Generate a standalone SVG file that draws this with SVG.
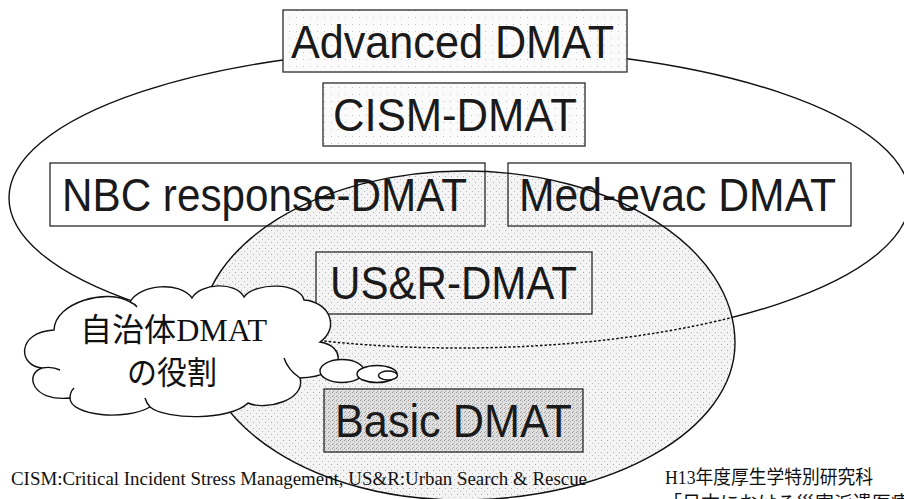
<svg xmlns="http://www.w3.org/2000/svg" width="904" height="499" viewBox="0 0 904 499">
<style>
.box{stroke:#2a2a2a;stroke-width:1.3}
.lbl{font-family:"Liberation Sans",Arial,sans-serif;font-size:46px;fill:#1a1a1a}
.line{fill:none;stroke:#111;stroke-width:1.4}
.dot{fill:none;stroke:#111;stroke-width:1.5;stroke-dasharray:2.5 2}
.cloudtxt{font-family:"Liberation Serif","Noto Sans CJK JP",serif;font-size:32px;fill:#111}
.foot{font-family:"Liberation Serif","Noto Sans CJK JP",serif;font-size:19px;fill:#111}
.bub{fill:#fff;stroke:#111;stroke-width:1.4}
</style>
<defs>
<pattern id="stip" width="6" height="6" patternUnits="userSpaceOnUse">
<rect width="6" height="6" fill="#f4f4f4"/>
<rect x="1" y="2" width="1" height="1" fill="#a8a8a8"/>
<rect x="4" y="5" width="1" height="1" fill="#bdbdbd"/>
</pattern>
<pattern id="stipL" width="7" height="7" patternUnits="userSpaceOnUse">
<rect width="7" height="7" fill="#fbfbfb"/>
<rect x="2" y="3" width="1" height="1" fill="#c4c4c4"/>
</pattern>
<pattern id="stipD" width="4" height="4" patternUnits="userSpaceOnUse">
<rect width="4" height="4" fill="#e0e0e0"/>
<rect x="0" y="0" width="1" height="1" fill="#9a9a9a"/>
<rect x="2" y="1" width="1" height="1" fill="#a8a8a8"/>
<rect x="1" y="3" width="1" height="1" fill="#a0a0a0"/>
</pattern>
<path id="innerShape" d="M465,171 C614,171 735,248 735,343 C735,430 612,500 460,500 C316,500 200,426 200,335 C200,244 319,171 465,171 Z"/>
<clipPath id="innerClip"><use href="#innerShape"/></clipPath>
</defs>
<rect width="904" height="499" fill="#fff"/>

<g id="sets">
<ellipse id="outer-set" class="line" cx="459.5" cy="198" rx="450.5" ry="150"/>
<use id="inner-set-fill" href="#innerShape" fill="url(#stip)" stroke="none"/>
</g>

<g id="node-advanced">
<rect class="box" x="283" y="10" width="344" height="62" fill="url(#stipL)"/>
<text class="lbl" x="291" y="58" textLength="323" lengthAdjust="spacingAndGlyphs">Advanced DMAT</text>
</g>
<g id="node-cism">
<rect class="box" x="323" y="83" width="262" height="63" fill="url(#stipL)"/>
<text class="lbl" x="333" y="131" textLength="244" lengthAdjust="spacingAndGlyphs">CISM-DMAT</text>
</g>
<g id="node-nbc">
<rect class="box" x="50" y="163" width="435" height="63" fill="none"/>
<text class="lbl" x="62" y="211" textLength="405" lengthAdjust="spacingAndGlyphs">NBC response-DMAT</text>
</g>
<g id="node-medevac">
<rect class="box" x="508" y="163" width="343" height="63" fill="none"/>
<text class="lbl" x="519" y="211" textLength="317" lengthAdjust="spacingAndGlyphs">Med-evac DMAT</text>
</g>

<g id="connectors">
<use href="#innerShape" class="line"/>
<ellipse class="dot" cx="459.5" cy="198" rx="450.5" ry="150" clip-path="url(#innerClip)"/>
</g>

<g id="node-usr">
<rect class="box" x="316" y="252" width="276" height="62" fill="none"/>
<text class="lbl" x="330" y="299" textLength="247" lengthAdjust="spacingAndGlyphs">US&amp;R-DMAT</text>
</g>
<g id="node-basic">
<rect class="box" x="324" y="389" width="259" height="63" fill="url(#stipD)"/>
<text class="lbl" x="335" y="437" textLength="237" lengthAdjust="spacingAndGlyphs">Basic DMAT</text>
</g>

<g id="node-cloud">
<path d="M42,368 C18,366 16,332 54,330 C55,302 108,288 130,302 C140,284 180,281 192,298 C200,283 236,281 244,297 C255,282 300,282 304,300 C330,302 340,328 320,342 C346,346 348,376 300,378 C306,400 266,411 248,403 C230,421 166,420 150,407 C126,421 70,416 70,398 C32,402 24,374 42,368 Z" fill="#fff" stroke="#111" stroke-width="1.4"/>
<path class="line" d="M42,368 Q52,366 60,370 M130,302 Q135,304 137,307 M300,378 Q288,370 284,358 M150,407 Q146,402 145,398 M70,398 Q70,392 74,388"/>
<ellipse class="bub" cx="342" cy="371" rx="22" ry="11.5"/>
<ellipse class="bub" cx="377" cy="374" rx="20" ry="8.5"/>
<ellipse class="bub" cx="388" cy="375.5" rx="9.5" ry="4.5"/>
<text class="cloudtxt" x="80" y="341" textLength="187" lengthAdjust="spacingAndGlyphs">自治体DMAT</text>
<text class="cloudtxt" x="127" y="384" textLength="90" lengthAdjust="spacingAndGlyphs">の役割</text>
</g>

<g id="footer">
<text class="foot" x="11" y="485" textLength="576" lengthAdjust="spacingAndGlyphs">CISM:Critical Incident Stress Management, US&amp;R:Urban Search &amp; Rescue</text>
<text class="foot" x="665" y="484" textLength="208" lengthAdjust="spacingAndGlyphs">H13年度厚生学特別研究科</text>
<text class="foot" x="663" y="510" textLength="247" lengthAdjust="spacingAndGlyphs">「日本における災害派遣医療</text>
</g>
</svg>
